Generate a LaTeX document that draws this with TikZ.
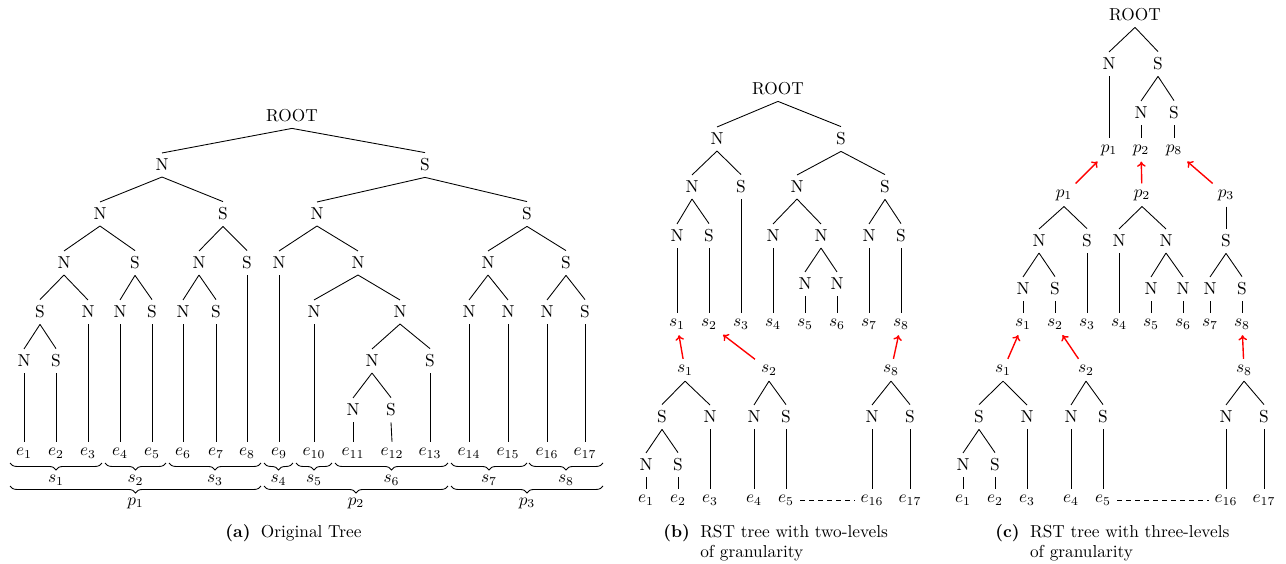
\documentclass[tikz,border=0pt]{standalone}
\usetikzlibrary{arrows.meta,decorations.pathreplacing}
\tikzset{
  edge/.style={line width=0.5pt},
  uparr/.style={red, line width=0.8pt, -{To[length=3pt,width=5pt]}},
  dashline/.style={line width=0.5pt, dash pattern=on 2.6pt off 2.6pt},
  brc/.style={line width=0.5pt, decorate, decoration={brace, mirror, amplitude=4pt}},
  capt/.style={anchor=base west, inner sep=0pt}
}
\begin{document}
\begin{tikzpicture}[x=0.578pt, y=-0.578pt]
\useasboundingbox (0,0) rectangle (1286,563);

% ---------------- (a) ----------------
\node (aR) at (292,116) {ROOT};
\node (aN) at (162,165) {N};
\node (aS) at (425,165) {S};
\node (aNN) at (100,214) {N};
\node (aNS) at (223,214) {S};
\node (aSN) at (317,214) {N};
\node (aSS) at (527,214) {S};
\node (aNNN) at (64,263) {N};
\node (aNNS) at (135,263) {S};
\node (aNSN) at (199,263) {N};
\node (aNSS) at (247,263) {S};
\node (aSNN) at (279,263) {N};
\node (aSNM) at (358,263) {N};
\node (aSSN) at (488,263) {N};
\node (aSSS) at (566,263) {S};
\node (a4a) at (40,312) {S};
\node (a4b) at (88,312) {N};
\node (a4c) at (120,312) {N};
\node (a4d) at (152,312) {S};
\node (a4e) at (183,312) {N};
\node (a4f) at (216,312) {S};
\node (a4g) at (314,312) {N};
\node (a4h) at (400,312) {N};
\node (a4i) at (469,312) {N};
\node (a4j) at (508,312) {N};
\node (a4k) at (547,312) {N};
\node (a4l) at (585,312) {S};
\node (a5a) at (24,361) {N};
\node (a5b) at (56,361) {S};
\node (a5c) at (372,361) {N};
\node (a5d) at (430,361) {S};
\node (a6a) at (353,410) {N};
\node (a6b) at (391,410) {S};
\foreach \i/\x in {1/24,2/56,3/88,4/120,5/152,6/183,7/216,8/247,9/279,10/314,11/353,12/392,13/430,14/469,15/508,16/547,17/585}
  \node (ae\i) at (\x,453) {$e_{\i}$};

\foreach \p/\c in {aR/aN,aR/aS,aN/aNN,aN/aNS,aS/aSN,aS/aSS,
  aNN/aNNN,aNN/aNNS,aNS/aNSN,aNS/aNSS,aSN/aSNN,aSN/aSNM,aSS/aSSN,aSS/aSSS,
  aNNN/a4a,aNNN/a4b,aNNS/a4c,aNNS/a4d,aNSN/a4e,aNSN/a4f,aSNM/a4g,aSNM/a4h,
  aSSN/a4i,aSSN/a4j,aSSS/a4k,aSSS/a4l,a4a/a5a,a4a/a5b,a4h/a5c,a4h/a5d,
  a5c/a6a,a5c/a6b,
  a5a/ae1,a5b/ae2,a4b/ae3,a4c/ae4,a4d/ae5,a4e/ae6,a4f/ae7,aNSS/ae8,aSNN/ae9,
  a4g/ae10,a6a/ae11,a6b/ae12,a5d/ae13,a4i/ae14,a4j/ae15,a4k/ae16,a4l/ae17}
  \draw[edge] (\p.south) -- (\c.north);

% braces
\foreach \i/\xa/\xb in {1/10/102,2/105/166,3/169/261,4/264/293,5/296/332,6/335/448,7/451/527,8/529/603}{
  \coordinate (sbl\i) at (\xa,463);
  \coordinate (sbr\i) at (\xb,463);
  \draw[brc] (sbl\i) -- (sbr\i);
  \node (sl\i) at ({(\xa+\xb)/2},480) {$s_{\i}$};
}
\foreach \i/\xa/\xb in {1/10/261,2/264/448,3/451/603}{
  \coordinate (pbl\i) at (\xa,486);
  \coordinate (pbr\i) at (\xb,486);
  \draw[brc] (pbl\i) -- (pbr\i);
  \node (pl\i) at ({(\xa+\xb)/2},503) {$p_{\i}$};
}
\node[capt] (capa) at (225,537) {\textbf{(a)}\hspace{6pt}Original Tree};

% ---------------- (b) ----------------
\node (bR) at (778,89) {ROOT};
\node (bN) at (717,139) {N};
\node (bS) at (841,139) {S};
\node (bNN) at (692,187) {N};
\node (bNS) at (741,187) {S};
\node (bSN) at (797,187) {N};
\node (bSS) at (885,187) {S};
\node (bNNN) at (677,236) {N};
\node (bNNS) at (709,236) {S};
\node (bSNN) at (773,236) {N};
\node (bSNM) at (821,236) {N};
\node (bSSN) at (869,236) {N};
\node (bSSS) at (901,236) {S};
\node (bSNMa) at (805,284) {N};
\node (bSNMb) at (837,284) {N};
\foreach \i/\x in {1/677,2/709,3/741,4/773,5/805,6/837,7/869,8/901}
  \node (bs\i) at (\x,324) {$s_{\i}$};
\foreach \p/\c in {bR/bN,bR/bS,bN/bNN,bN/bNS,bS/bSN,bS/bSS,bNN/bNNN,bNN/bNNS,
  bSN/bSNN,bSN/bSNM,bSS/bSSN,bSS/bSSS,bSNM/bSNMa,bSNM/bSNMb,
  bNNN/bs1,bNNS/bs2,bNS/bs3,bSNN/bs4,bSNMa/bs5,bSNMb/bs6,bSSN/bs7,bSSS/bs8}
  \draw[edge] (\p.south) -- (\c.north);

\node (bt1) at (685,370) {$s_1$};
\node (bt2) at (769,370) {$s_2$};
\node (bt8) at (891,370) {$s_8$};
\node (bL1) at (662,417) {S};
\node (bL2) at (710,417) {N};
\node (bL3) at (754,417) {N};
\node (bL4) at (786,417) {S};
\node (bL5) at (872,417) {N};
\node (bL6) at (910,417) {S};
\node (bM1) at (646,465) {N};
\node (bM2) at (678,465) {S};
\foreach \i/\x in {1/646,2/678,3/710,4/754,5/786,16/872,17/910}
  \node (be\i) at (\x,500) {$e_{\i}$};
\foreach \p/\c in {bt1/bL1,bt1/bL2,bL1/bM1,bL1/bM2,bM1/be1,bM2/be2,bL2/be3,
  bt2/bL3,bt2/bL4,bL3/be4,bL4/be5,bt8/bL5,bt8/bL6,bL5/be16,bL6/be17}
  \draw[edge] (\p.south) -- (\c.north);
\draw[dashline] (be5) -- (be16);
\draw[uparr] (bt1) -- (bs1);
\draw[uparr] (bt2) -- (bs2);
\draw[uparr] (bt8) -- (bs8);
\node[capt] (capb) at (663,537) {\textbf{(b)}\hspace{6pt}\begin{tabular}[t]{@{}l@{}}RST tree with two-levels\\of granularity\end{tabular}};

% ---------------- (c) ----------------
\node (cR) at (1135,15) {ROOT};
\node (cN) at (1109,64) {N};
\node (cS) at (1158,64) {S};
\node (cSN) at (1141,113) {N};
\node (cSS) at (1174,113) {S};
\node (cp1) at (1109,150) {$p_1$};
\node (cp2) at (1141,150) {$p_2$};
\node (cp8) at (1174,150) {$p_8$};
\node (cq1) at (1064,195) {$p_1$};
\node (cq2) at (1142,195) {$p_2$};
\node (cq3) at (1226,195) {$p_3$};
\node (cA) at (1039,241) {N};
\node (cB) at (1087,241) {S};
\node (cC) at (1119,241) {N};
\node (cD) at (1166,241) {N};
\node (cE) at (1226,241) {S};
\node (cAa) at (1023,289) {N};
\node (cAb) at (1055,289) {S};
\node (cDa) at (1151,289) {N};
\node (cDb) at (1183,289) {N};
\node (cEa) at (1210,289) {N};
\node (cEb) at (1242,289) {S};
\foreach \i/\x in {1/1023,2/1055,3/1087,4/1119,5/1151,6/1183,7/1210,8/1242}
  \node (cs\i) at (\x,324) {$s_{\i}$};
\foreach \p/\c in {cR/cN,cR/cS,cN/cp1,cS/cSN,cS/cSS,cSN/cp2,cSS/cp8,
  cq1/cA,cq1/cB,cq2/cC,cq2/cD,cq3/cE,cA/cAa,cA/cAb,cD/cDa,cD/cDb,cE/cEa,cE/cEb,
  cAa/cs1,cAb/cs2,cB/cs3,cC/cs4,cDa/cs5,cDb/cs6,cEa/cs7,cEb/cs8}
  \draw[edge] (\p.south) -- (\c.north);

\node (ct1) at (1003,370) {$s_1$};
\node (ct2) at (1086,370) {$s_2$};
\node (ct8) at (1244,370) {$s_8$};
\node (cL1) at (979,417) {S};
\node (cL2) at (1027,417) {N};
\node (cL3) at (1071,417) {N};
\node (cL4) at (1103,417) {S};
\node (cL5) at (1226,417) {N};
\node (cL6) at (1264,417) {S};
\node (cM1) at (963,465) {N};
\node (cM2) at (995,465) {S};
\foreach \i/\x in {1/963,2/995,3/1027,4/1071,5/1103,16/1226,17/1264}
  \node (ce\i) at (\x,500) {$e_{\i}$};
\foreach \p/\c in {ct1/cL1,ct1/cL2,cL1/cM1,cL1/cM2,cM1/ce1,cM2/ce2,cL2/ce3,
  ct2/cL3,ct2/cL4,cL3/ce4,cL4/ce5,ct8/cL5,ct8/cL6,cL5/ce16,cL6/ce17}
  \draw[edge] (\p.south) -- (\c.north);
\draw[dashline] (ce5) -- (ce16);
\draw[uparr] (cq1) -- (cp1);
\draw[uparr] (cq2) -- (cp2);
\draw[uparr] (cq3) -- (cp8);
\draw[uparr] (ct1) -- (cs1);
\draw[uparr] (ct2) -- (cs2);
\draw[uparr] (ct8) -- (cs8);
\node[capt] (capc) at (995,537) {\textbf{(c)}\hspace{6pt}\begin{tabular}[t]{@{}l@{}}RST tree with three-levels\\of granularity\end{tabular}};
\end{tikzpicture}
\end{document}
